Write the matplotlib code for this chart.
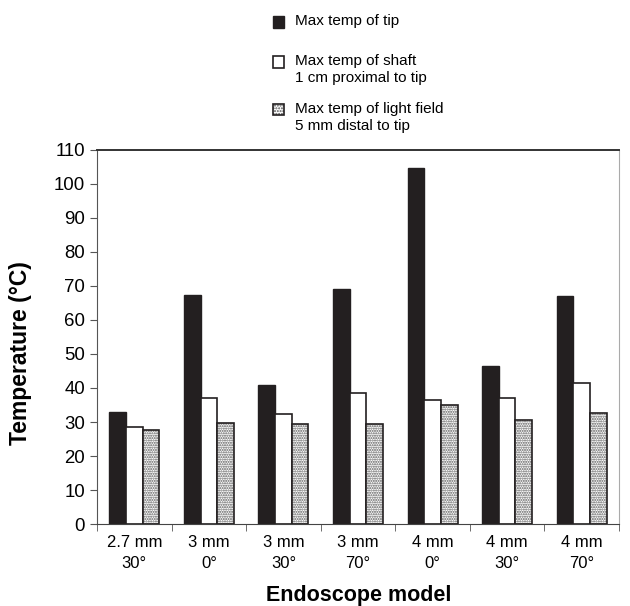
import numpy as np
import matplotlib.pyplot as plt
from matplotlib.patches import Rectangle

plt.rcParams['font.family'] = ['Liberation Sans', 'DejaVu Sans']

# Datos
modelos = ["2.7 mm\n30°", "3 mm\n0°", "3 mm\n30°", "3 mm\n70°", "4 mm\n0°", "4 mm\n30°", "4 mm\n70°"]
punta = [33.0, 67.4, 40.9, 69.0, 104.8, 46.6, 67.0]
vaina = [28.6, 37.2, 32.3, 38.6, 36.4, 37.2, 41.6]
campo_luz = [27.7, 29.8, 29.4, 29.4, 35.1, 30.6, 32.7]

etiquetas = ["Max temp of tip",
             "Max temp of shaft\n1 cm proximal to tip",
             "Max temp of light field\n5 mm distal to tip"]

fig = plt.figure(figsize=(6.3, 6.06), dpi=100)
ax = fig.add_axes([0.154, 0.1353, 0.8285, 0.6172])

x = np.arange(len(modelos))
w = 0.223
negro = "#231f20"

ax.bar(x - w, punta, w, color=negro, edgecolor=negro, linewidth=1)
ax.bar(x, vaina, w, color="white", edgecolor=negro, linewidth=1.2)
# barras punteadas: relleno con trama y luego el contorno
ax.bar(x + w, campo_luz, w, color="white", edgecolor="#555555", hatch=".......", linewidth=0)
ax.bar(x + w, campo_luz, w, fill=False, edgecolor=negro, linewidth=1.2)

ax.set_xlim(-0.5, len(modelos) - 0.5)
ax.set_ylim(0, 110)
ax.set_yticks(range(0, 111, 10))
ax.tick_params(axis='y', labelsize=13.4, direction='out', length=5, color="#555555")

ax.set_xticks(x)
ax.set_xticklabels(modelos, fontsize=12, linespacing=1.45)
ax.tick_params(axis='x', which='major', length=0, pad=8)
ax.set_xticks(np.arange(-0.5, len(modelos), 1), minor=True)
ax.tick_params(axis='x', which='minor', length=5, direction='out', color="#555555")

ax.spines['left'].set_color("#555555")
ax.spines['bottom'].set_color("#444444")
ax.spines['top'].set_color("#333333")
ax.spines['top'].set_linewidth(1.4)
ax.spines['right'].set_color("#aaaaaa")
ax.spines['right'].set_linewidth(0.8)

fig.text(21 / 630, 1 - 353 / 606, "Temperature (°C)", fontsize=16.5, fontweight='bold',
         rotation=90, ha='center', va='center')
fig.text(359 / 630, 1 - 595 / 606, "Endoscope model", fontsize=15.5, fontweight='bold',
         ha='center', va='center')

# Leyenda manual
sq = 11
filas_y = [22, 62, 110]
for i, (lab, fy) in enumerate(zip(etiquetas, filas_y)):
    x0 = 273 / 630
    y0 = 1 - (fy + sq / 2) / 606
    ww = sq / 630
    hh = sq / 606
    if i == 0:
        fig.patches.append(Rectangle((x0, y0), ww, hh, transform=fig.transFigure,
                                     facecolor=negro, edgecolor=negro, linewidth=1))
    elif i == 1:
        fig.patches.append(Rectangle((x0, y0), ww, hh, transform=fig.transFigure,
                                     facecolor="white", edgecolor=negro, linewidth=1.2))
    else:
        fig.patches.append(Rectangle((x0, y0), ww, hh, transform=fig.transFigure,
                                     facecolor="white", edgecolor="#555555", hatch="......",
                                     linewidth=0))
        fig.patches.append(Rectangle((x0, y0), ww, hh, transform=fig.transFigure,
                                     fill=False, edgecolor=negro, linewidth=1.2))
    fig.text(295 / 630, 1 - (fy - 8) / 606, lab, fontsize=11, ha='left', va='top',
             linespacing=1.3)

fig.savefig("out.png", dpi=100)
